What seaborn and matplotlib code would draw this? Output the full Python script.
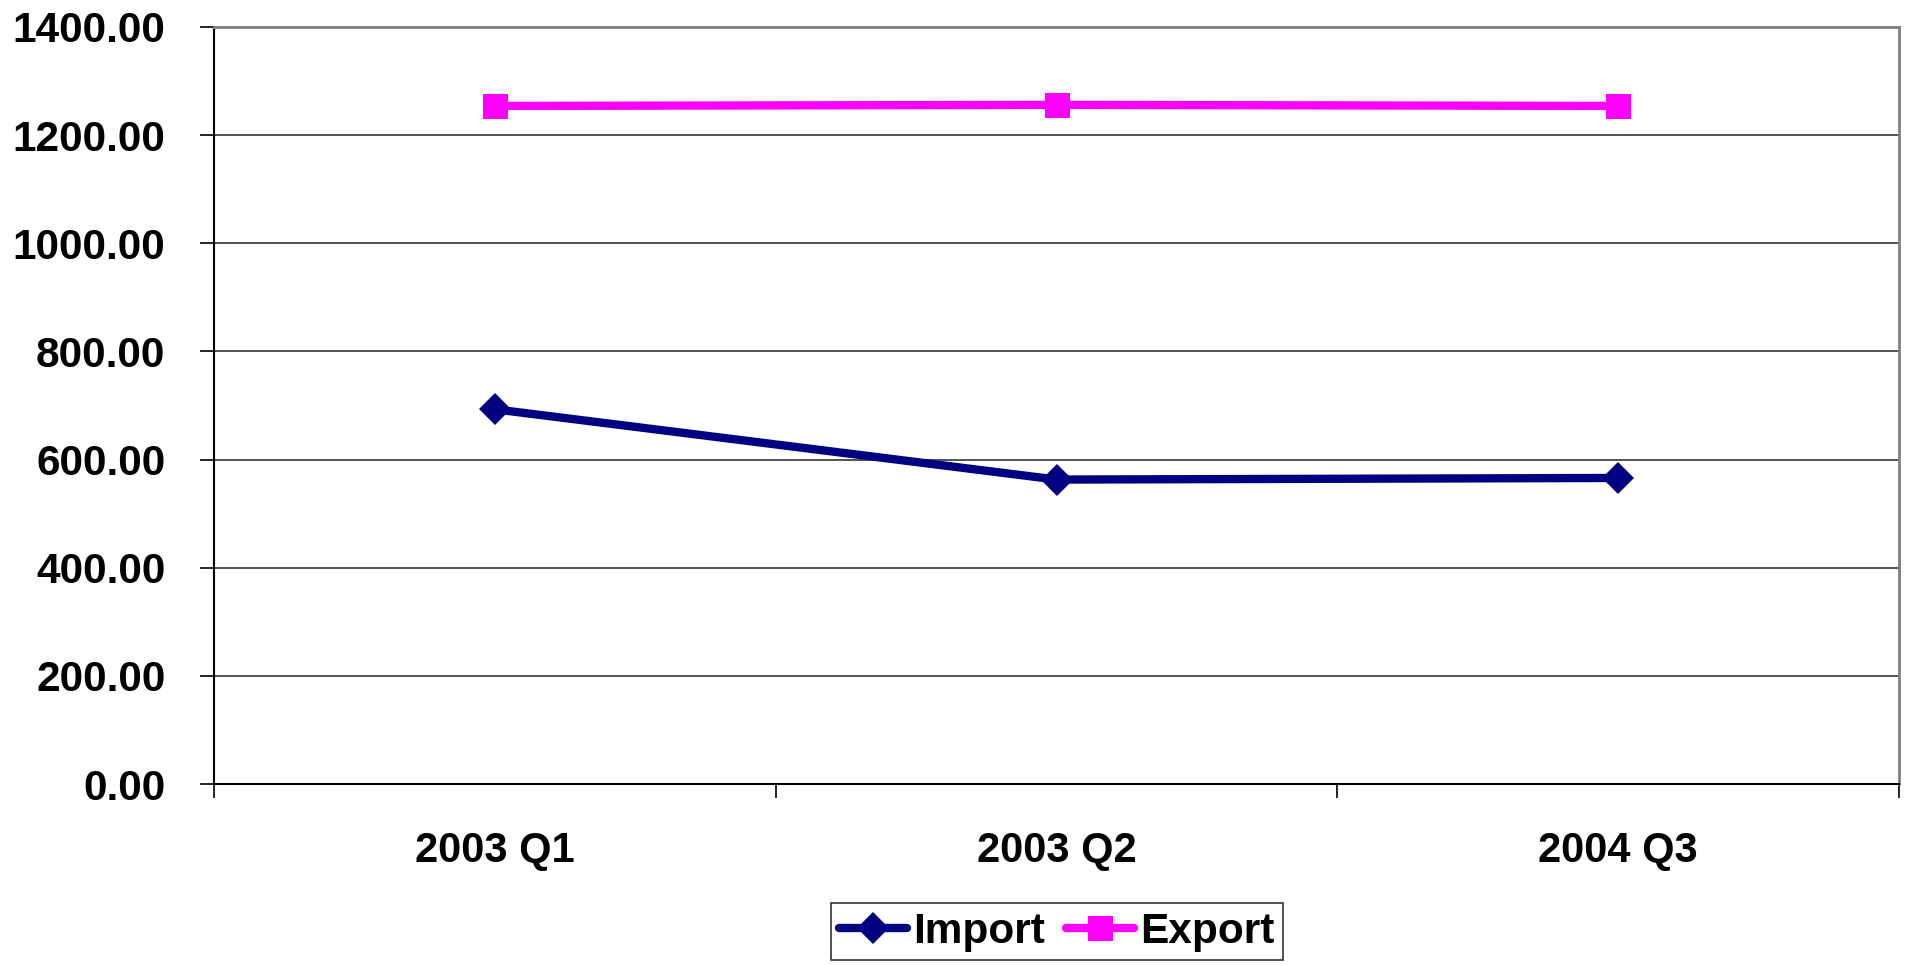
import numpy as np
import pandas as pd
import matplotlib
matplotlib.use('Agg')
import matplotlib.pyplot as plt
from matplotlib.ticker import FuncFormatter
import seaborn as sns

# ==================== 数据 ====================
quarters = ['2003 Q1', '2003 Q2', '2004 Q3']
import_values = [693, 563, 566]
export_values = [1254, 1256, 1254]
series_names = ['Import', 'Export']
y_ticks = [0, 200, 400, 600, 800, 1000, 1200, 1400]

df = pd.DataFrame({
    'quarter': quarters * 2,
    'value': import_values + export_values,
    'series': [series_names[0]] * len(quarters) + [series_names[1]] * len(quarters),
})

# ==================== 样式 ====================
sns.set_style('white')
plt.rcParams['font.family'] = ['Liberation Sans', 'DejaVu Sans']
plt.rcParams['font.weight'] = 'bold'
plt.rcParams['text.color'] = 'black'
plt.rcParams['xtick.color'] = 'black'
plt.rcParams['ytick.color'] = 'black'
plt.rcParams['xtick.labelcolor'] = 'black'
plt.rcParams['ytick.labelcolor'] = 'black'

colors = {'Import': '#000080', 'Export': '#FF00FF'}
markers = {'Import': 'D', 'Export': 's'}

fig = plt.figure(figsize=(19.1, 9.65), dpi=100)
ax = fig.add_axes([214 / 1910, 1 - 784 / 965, (1899 - 214) / 1910, (784 - 27) / 965])

sns.lineplot(data=df, x='quarter', y='value', hue='series', style='series',
             palette=colors, markers=markers, dashes=False, errorbar=None,
             linewidth=6, markersize=18, markeredgewidth=0, legend=False, ax=ax)

# 菱形标记单独调整大小
for line in ax.lines:
    if line.get_marker() == 'D':
        line.set_markersize(16.5)

# ==================== 坐标轴 ====================
ax.set_ylim(0, 1400)
ax.set_yticks(y_ticks)
ax.yaxis.set_major_formatter(FuncFormatter(lambda v, p: f'{v:.2f}'))
ax.set_xlim(-0.5, len(quarters) - 0.5)
ax.set_xticks(range(len(quarters)))
ax.set_xticklabels(quarters)
ax.set_xticks(np.arange(-0.5, len(quarters)), minor=True)
ax.set_xlabel('')
ax.set_ylabel('')

ax.tick_params(axis='y', which='major', length=10, width=1.2, color='black',
               labelcolor='black', direction='out', labelsize=30.5, pad=25, left=True)
ax.tick_params(axis='x', which='major', length=0, labelsize=30, pad=34, labelcolor='black')
ax.tick_params(axis='x', which='minor', length=10, width=1.2, color='black',
               direction='out', bottom=True)
for lbl in ax.get_xticklabels() + ax.get_yticklabels():
    lbl.set_fontweight('bold')

ax.grid(axis='y', color='#333333', linewidth=1.2)
ax.set_axisbelow(True)
for side in ['top', 'right']:
    ax.spines[side].set_color('#808080')
    ax.spines[side].set_linewidth(2)
for side in ['left', 'bottom']:
    ax.spines[side].set_color('black')
    ax.spines[side].set_linewidth(1.5)

# ==================== 图例 ====================
leg = ax.legend(handles=ax.lines[:2], labels=series_names, loc='center',
                bbox_to_anchor=(1057 / 1910, 1 - 931.5 / 965),
                bbox_transform=fig.transFigure, ncol=2,
                prop={'size': 30.5, 'weight': 'bold'}, frameon=True, fancybox=False,
                borderpad=0.2, handlelength=1.6, handletextpad=0.15, columnspacing=0.5)
leg.get_frame().set_edgecolor('black')
leg.get_frame().set_linewidth(1.2)
for txt in leg.get_texts():
    txt.set_color('black')

fig.savefig('out.png', dpi=100)
